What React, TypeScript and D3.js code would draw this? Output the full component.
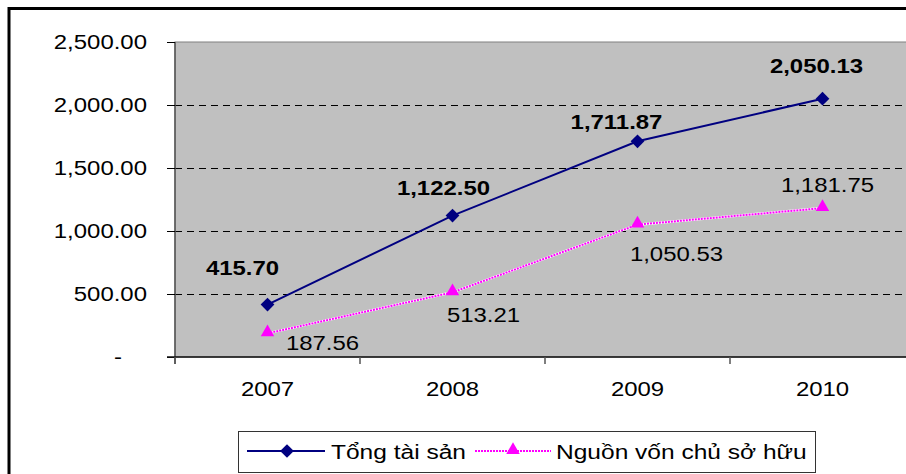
import * as d3 from "d3";

// chart data
const years = ["2007", "2008", "2009", "2010"];
const tongTaiSan = [415.7, 1122.5, 1711.87, 2050.13];
const nguonVon = [187.56, 513.21, 1050.53, 1181.75];
const yTicks = [0, 500, 1000, 1500, 2000, 2500];
const seriesNames = ["Tổng tài sản", "Nguồn vốn chủ sở hữu"];

// label placement (dx, dy of baseline relative to point)
const blueLabelOffsets = [[-25, -30], [-9, -21], [-21, -12], [-6, -26]];
const pinkLabelOffsets = [[55, 17], [31, 30], [39, 36], [5, -16]];

const W = 906;
const H = 474;
const FONT = "'Liberation Sans', Arial, sans-serif";
const SX = 1.18; // text is a bit wide in the original

const plot = { left: 175, right: 915, top: 42, bottom: 357 };

const fmt = d3.format(",.2f");

function T({ x, y, children, anchor = "middle", weight = "normal", size = 20.3 }: any) {
    return (
        <text
            transform={`translate(${x},${y}) scale(${SX},1)`}
            textAnchor={anchor}
            fontWeight={weight}
            fontSize={size}
            fontFamily={FONT}
            fill="#000"
        >
            {children}
        </text>
    );
}

export default function App() {
    const x = d3.scaleBand<string>().domain(years).range([plot.left, plot.right]).padding(0);
    const cx = (d: string) => (x(d) ?? 0) + x.bandwidth() / 2;
    const y = d3.scaleLinear().domain([0, 2500]).range([plot.bottom, plot.top]);

    const line = d3.line<number>()
        .x((_, i) => cx(years[i]))
        .y(d => y(d));

    const diamond = d3.symbol().type(d3.symbolDiamond2).size(120)();
    const triangle = d3.symbol().type(d3.symbolTriangle2).size(130)();

    const blueD = line(tongTaiSan) ?? "";
    const pinkD = line(nguonVon) ?? "";

    const legendY = 451;

    return (
        <svg width={W} height={H} style={{ position: "absolute", left: 0, top: 0, background: "#fff" }}>
            {/* outer frame */}
            <rect x={9} y={8.5} width={1000} height={1000} fill="#fff" stroke="#000" strokeWidth={3} />

            {/* plot area */}
            <rect x={plot.left} y={plot.top} width={plot.right - plot.left} height={plot.bottom - plot.top}
                  fill="#c0c0c0" stroke="#808080" strokeWidth={1} />

            {/* gridlines */}
            {yTicks.filter(t => t > 0 && t < 2500).map(t => (
                <line key={t} x1={plot.left} x2={plot.right} y1={y(t) + 0.5} y2={y(t) + 0.5}
                      stroke="#000" strokeWidth={1} strokeDasharray="7,5" />
            ))}

            {/* y axis */}
            <line x1={plot.left} x2={plot.left} y1={plot.top} y2={plot.bottom + 7} stroke="#555" strokeWidth={1.5} />
            {yTicks.map(t => (
                <g key={t}>
                    <line x1={plot.left - 8} x2={plot.left} y1={y(t) + 0.5} y2={y(t) + 0.5} stroke="#000" strokeWidth={1} />
                    <T x={t === 0 ? 122 : 147} y={y(t) + 7} anchor="end">{t === 0 ? "-" : fmt(t)}</T>
                </g>
            ))}

            {/* x axis */}
            <line x1={plot.left - 8} x2={plot.right} y1={plot.bottom} y2={plot.bottom} stroke="#111" strokeWidth={1.5} />
            {years.map(yr => (
                <g key={yr}>
                    <line x1={x(yr)} x2={x(yr)} y1={plot.bottom} y2={plot.bottom + 7} stroke="#555" strokeWidth={1.5} />
                    <T x={cx(yr)} y={396}>{yr}</T>
                </g>
            ))}

            {/* series: Tong tai san */}
            <path d={blueD} fill="none" stroke="#000080" strokeWidth={2} />
            {tongTaiSan.map((v, i) => (
                <path key={i} d={diamond} transform={`translate(${cx(years[i])},${y(v)})`} fill="#000080" />
            ))}

            {/* series: Nguon von chu so huu */}
            <path d={pinkD} fill="none" stroke="#fff" strokeWidth={2.5} />
            <path d={pinkD} fill="none" stroke="#ff00ff" strokeWidth={2} strokeDasharray="2,1" />
            {nguonVon.map((v, i) => (
                <path key={i} d={triangle} transform={`translate(${cx(years[i])},${y(v) - 1})`} fill="#ff00ff" />
            ))}

            {/* data labels */}
            {tongTaiSan.map((v, i) => (
                <T key={i} x={cx(years[i]) + blueLabelOffsets[i][0]} y={y(v) + blueLabelOffsets[i][1]} weight="bold">
                    {fmt(v)}
                </T>
            ))}
            {nguonVon.map((v, i) => (
                <T key={i} x={cx(years[i]) + pinkLabelOffsets[i][0]} y={y(v) + pinkLabelOffsets[i][1]}>
                    {fmt(v)}
                </T>
            ))}

            {/* legend */}
            <rect x={238.5} y={431.5} width={577} height={41} fill="#fff" stroke="#333" strokeWidth={1} />
            <line x1={247} x2={325} y1={legendY} y2={legendY} stroke="#000080" strokeWidth={2} />
            <path d={diamond} transform={`translate(287,${legendY})`} fill="#000080" />
            <T x={331} y={legendY + 8} anchor="start" size={20.8}>{seriesNames[0]}</T>
            <line x1={475} x2={551} y1={legendY} y2={legendY} stroke="#fff" strokeWidth={2.5} />
            <line x1={475} x2={551} y1={legendY} y2={legendY} stroke="#ff00ff" strokeWidth={2} strokeDasharray="2,1" />
            <path d={triangle} transform={`translate(513,${legendY - 1})`} fill="#ff00ff" />
            <T x={556} y={legendY + 8} anchor="start" size={20.8}>{seriesNames[1]}</T>
        </svg>
    );
}
